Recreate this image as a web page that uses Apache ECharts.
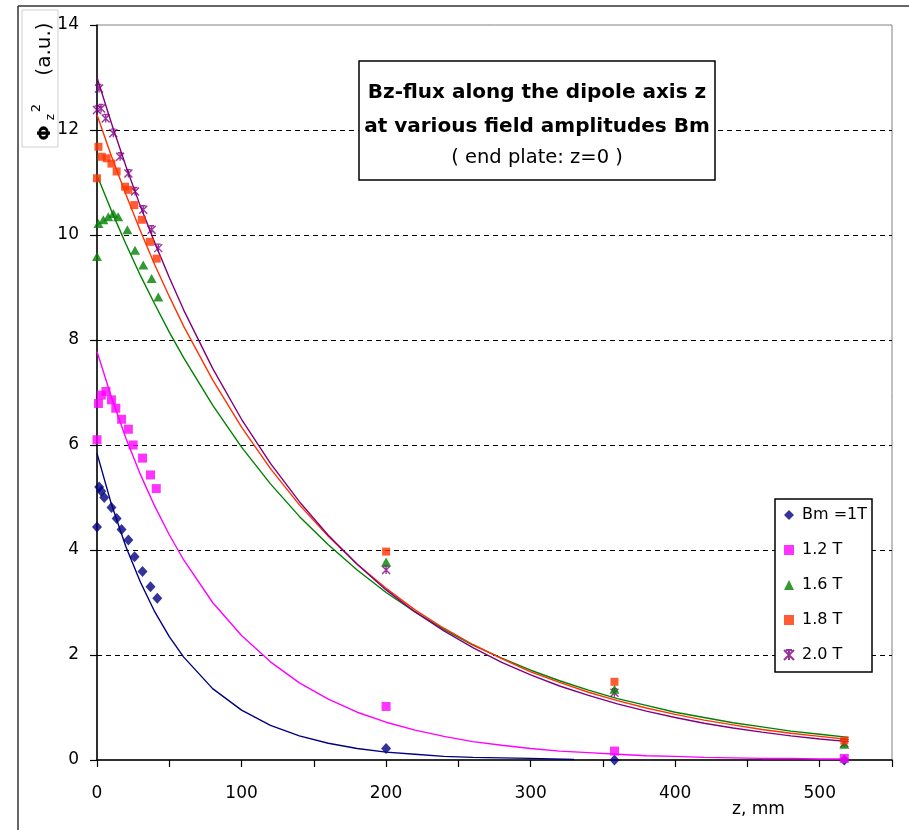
<!DOCTYPE html>
<html><head><meta charset="utf-8">
<script src="https://cdn.jsdelivr.net/npm/echarts@6/dist/echarts.min.js"></script>
<style>html,body{margin:0;padding:0;background:#fff;}#c{width:909px;height:830px;}</style>
</head><body><div id="c"></div>
<script>
// ---- data ----
const seriesNames = ['Bm =1T', '1.2 T', '1.6 T', '1.8 T', '2.0 T'];
const xTickLabels = [0, 100, 200, 300, 400, 500];
const yTickLabels = [0, 2, 4, 6, 8, 10, 12, 14];

// measured points
const bm10Z = [0, 1.5, 3, 5, 10, 13.6, 17, 21.7, 26, 31.5, 37, 41.7, 200, 358, 517];
const bm10V = [4.44, 5.2, 5.12, 5.0, 4.81, 4.6, 4.39, 4.19, 3.87, 3.59, 3.3, 3.08, 0.22, 0.0, 0.0];
const bm12Z = [0, 1, 3, 6.2, 10, 13, 17, 21.7, 25, 31.5, 37, 41, 200, 358, 517];
const bm12V = [6.1, 6.79, 6.95, 7.02, 6.86, 6.7, 6.49, 6.3, 6.0, 5.75, 5.43, 5.17, 1.02, 0.17, 0.03];
const bm16Z = [0, 1, 4.4, 7.8, 11.3, 14.7, 21, 26.3, 32, 37.8, 42.4, 200, 358, 517];
const bm16V = [9.59, 10.22, 10.29, 10.35, 10.41, 10.35, 10.1, 9.71, 9.43, 9.17, 8.82, 3.77, 1.35, 0.3];
const bm18Z = [0, 1, 3.2, 6.7, 10, 13.6, 19.4, 21.7, 25.8, 31, 36.6, 41.3, 200, 358, 517];
const bm18V = [11.08, 11.68, 11.49, 11.46, 11.36, 11.21, 10.92, 10.86, 10.57, 10.29, 9.87, 9.55, 3.97, 1.49, 0.37];
const bm20Z = [0, 1.4, 2.8, 6, 11.3, 16, 21.7, 26.3, 32, 37.8, 42.4, 200, 358, 517];
const bm20V = [12.38, 12.79, 12.41, 12.22, 11.94, 11.49, 11.17, 10.83, 10.48, 10.1, 9.75, 3.62, 1.28, 0.32];

// fitted curves
const blueFitZ = [0, 10, 20, 30, 40, 50, 60, 80, 100, 120, 140, 160, 180, 200, 220, 240, 260, 280, 300, 330];
const blueFitV = [5.84, 4.87, 4.06, 3.39, 2.82, 2.35, 1.96, 1.36, 0.95, 0.66, 0.46, 0.32, 0.22, 0.15, 0.11, 0.07, 0.05, 0.04, 0.03, 0.01];
const fitZ = [0, 10, 20, 30, 40, 50, 60, 80, 100, 120, 140, 160, 180, 200, 220, 240, 260, 280, 300, 320, 340, 360, 380, 400, 420, 440, 460, 480, 500, 520];
const magentaFitV = [7.78, 6.91, 6.13, 5.44, 4.83, 4.29, 3.81, 3.0, 2.37, 1.87, 1.47, 1.16, 0.91, 0.72, 0.57, 0.45, 0.35, 0.28, 0.22, 0.17, 0.14, 0.11, 0.08, 0.07, 0.05, 0.04, 0.03, 0.03, 0.02, 0.02];
const greenFitV = [11.14, 10.46, 9.83, 9.23, 8.68, 8.15, 7.66, 6.76, 5.96, 5.26, 4.64, 4.1, 3.62, 3.19, 2.82, 2.49, 2.19, 1.94, 1.71, 1.51, 1.33, 1.17, 1.04, 0.91, 0.81, 0.71, 0.63, 0.55, 0.49, 0.43];
const redFitV = [12.29, 11.5, 10.77, 10.08, 9.43, 8.83, 8.26, 7.24, 6.34, 5.55, 4.86, 4.26, 3.73, 3.27, 2.86, 2.51, 2.2, 1.93, 1.68, 1.48, 1.29, 1.13, 0.99, 0.87, 0.76, 0.67, 0.58, 0.51, 0.45, 0.39];
const purpleFitV = [13.0, 12.13, 11.31, 10.55, 9.85, 9.19, 8.57, 7.46, 6.49, 5.65, 4.92, 4.28, 3.73, 3.24, 2.82, 2.46, 2.14, 1.86, 1.62, 1.41, 1.23, 1.07, 0.93, 0.81, 0.7, 0.61, 0.53, 0.46, 0.4, 0.35];

// ---- build ----
const zip = (a, b) => a.map((v, i) => [v, b[i]]);
const FONT = 'DejaVu Sans';
const colors = ['#000080', '#ff00ff', '#008000', '#ff3300', '#800080'];
const starPath = 'path://M0,0 L10,10 M10,0 L0,10 M5,0 L5,10 M2,0 L8,0';

function fitLine(name, data, color) {
  return {
    type: 'line', name: name, data: data, showSymbol: false, symbol: 'none',
    smooth: false, silent: true, z: 2,
    lineStyle: { color: color, width: 1.4 }
  };
}

function txt(x, y, text, size, extra) {
  return Object.assign({ type: 'text', x: x, y: y, z: 6,
    style: { text: text, fontFamily: FONT, fontSize: size, fill: '#000',
      align: 'center', verticalAlign: 'middle', textAlign: 'center', textVerticalAlign: 'middle' } }, extra || {});
}

const chart = echarts.init(document.getElementById('c'), null, { renderer: 'canvas' });
const g = [
  // outer frame
  { type: 'line', shape: { x1: 18, y1: 6, x2: 909, y2: 6 }, style: { stroke: '#333', lineWidth: 1.5 }, z: 1 },
  { type: 'line', shape: { x1: 18, y1: 6, x2: 18, y2: 830 }, style: { stroke: '#333', lineWidth: 1.5 }, z: 1 },
  // y axis title box
  { type: 'rect', shape: { x: 22, y: 10, width: 36, height: 137 }, style: { fill: '#fff', stroke: '#d0d0d0', lineWidth: 1 }, z: 5 },
  // title box
  { type: 'rect', shape: { x: 359, y: 61, width: 356, height: 119 }, style: { fill: '#fff', stroke: '#000', lineWidth: 1.5 }, z: 5 },
  // legend box
  { type: 'rect', shape: { x: 775, y: 499, width: 97, height: 173 }, style: { fill: '#fff', stroke: '#000', lineWidth: 1.5 }, z: 5 }
];
const rot = { rotation: Math.PI / 2 };
const phi = txt(45, 133, 'Φ', 18, rot); phi.style.fontWeight = 'bold'; g.push(phi);
g.push(txt(51, 117, 'z', 12, rot));
g.push(txt(37, 108, '2', 13, rot));
g.push(txt(45, 49, '(a.u.)', 20, rot));
const t1 = txt(537, 93, 'Bz-flux along the dipole axis z', 20); t1.style.fontWeight = 'bold'; g.push(t1);
const t2 = txt(537, 127, 'at various field amplitudes Bm', 20); t2.style.fontWeight = 'bold'; g.push(t2);
g.push(txt(537, 158, '( end plate: z=0 )', 19.5));
const xn = txt(732, 810, 'z, mm', 17); xn.style.align = 'left'; xn.style.textAlign = 'left'; g.push(xn);

chart.setOption({
  animation: false,
  backgroundColor: '#fff',
  textStyle: { fontFamily: FONT },
  grid: { left: 97, right: 17, top: 25, bottom: 70, show: true, borderColor: '#808080', borderWidth: 1, backgroundColor: 'transparent' },
  xAxis: {
    type: 'value', min: 0, max: 550, interval: 50,
    axisLine: { show: true, onZero: false, lineStyle: { color: '#000', width: 1.5 } },
    axisTick: { show: true, length: 7, lineStyle: { color: '#000', width: 1.2 } },
    axisLabel: { margin: 25, color: '#000', fontFamily: FONT, fontSize: 17,
      formatter: v => xTickLabels.indexOf(v) >= 0 ? String(v) : '' },
    splitLine: { show: false }
  },
  yAxis: {
    type: 'value', min: 0, max: 14, interval: 2,
    axisLine: { show: true, onZero: false, lineStyle: { color: '#000', width: 1.5 } },
    axisTick: { show: true, length: 7, lineStyle: { color: '#000', width: 1.2 } },
    axisLabel: { margin: 18, color: '#000', fontFamily: FONT, fontSize: 17,
      formatter: v => yTickLabels.indexOf(v) >= 0 ? String(v) : '' },
    splitLine: { show: true, showMinLine: false, showMaxLine: false, lineStyle: { color: '#000', width: 1.2, type: [5, 4] } }
  },
  legend: {
    show: true, orient: 'vertical', left: 783, top: 507, padding: 0,
    itemWidth: 10, itemHeight: 10, itemGap: 19, z: 6,
    data: seriesNames,
    textStyle: { fontFamily: FONT, fontSize: 16, color: '#000', lineHeight: 16, padding: [0, 0, 0, 3] }
  },
  graphic: g,
  series: [
    fitLine('fit1', zip(blueFitZ, blueFitV), colors[0]),
    fitLine('fit2', zip(fitZ, magentaFitV), colors[1]),
    fitLine('fit3', zip(fitZ, greenFitV), colors[2]),
    fitLine('fit4', zip(fitZ, redFitV), colors[3]),
    fitLine('fit5', zip(fitZ, purpleFitV), colors[4]),
    { type: 'scatter', name: seriesNames[0], data: zip(bm10Z, bm10V), symbol: 'diamond', symbolSize: [10, 11], itemStyle: { color: colors[0] }, z: 3 },
    { type: 'scatter', name: seriesNames[1], data: zip(bm12Z, bm12V), symbol: 'rect', symbolSize: 9, itemStyle: { color: colors[1] }, z: 3 },
    { type: 'scatter', name: seriesNames[4], data: zip(bm20Z, bm20V), symbol: starPath, symbolSize: 8,
      itemStyle: { color: 'rgba(0,0,0,0)', borderColor: colors[4], borderWidth: 1.4 }, z: 3 },
    { type: 'scatter', name: seriesNames[2], data: zip(bm16Z, bm16V), symbol: 'triangle', symbolSize: [10, 9], itemStyle: { color: colors[2] }, z: 3 },
    { type: 'scatter', name: seriesNames[3], data: zip(bm18Z, bm18V), symbol: 'rect', symbolSize: 8, itemStyle: { color: colors[3] }, z: 3 }
  ]
});
</script>
</body></html>
